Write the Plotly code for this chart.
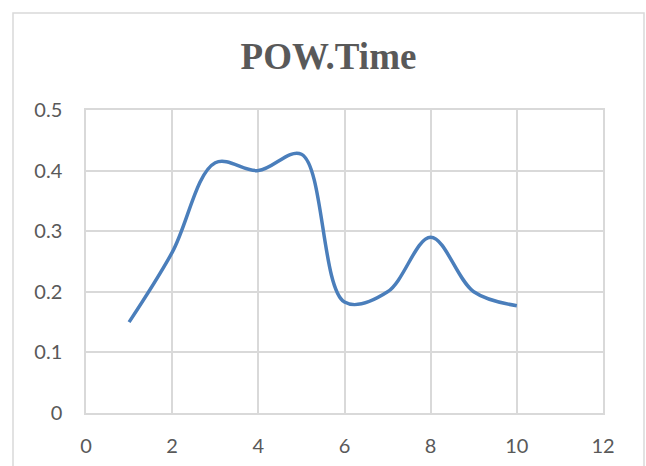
import plotly.graph_objects as go

# POW.Time series
x_vals = [1, 2, 3, 4, 5, 6, 7, 8, 9, 10]
pow_time = [0.15, 0.265, 0.413, 0.40, 0.427, 0.183, 0.20, 0.29, 0.20, 0.177]

x_ticks = [0, 2, 4, 6, 8, 10, 12]
y_ticks = [0, 0.1, 0.2, 0.3, 0.4, 0.5]
y_tick_text = ["0", "0.1", "0.2", "0.3", "0.4", "0.5"]

W, H = 646, 466
ML, MR, MT, MB = 86, 43, 110, 53
pw = W - ML - MR
ph = H - MT - MB


def px_x(p):
    return (p - ML) / pw


def px_y(p):
    return (H - MB - p) / ph


grid = "#d9d9d9"
text_col = "#595959"

fig = go.Figure()
fig.add_trace(go.Scatter(
    x=x_vals, y=pow_time, mode="lines",
    line=dict(color="#4A7EBB", width=3.5, shape="spline", smoothing=1.0),
    showlegend=False, hoverinfo="x+y",
))

axis_common = dict(
    showgrid=True, gridcolor=grid, gridwidth=1.5,
    zeroline=False, showline=True, linecolor=grid, linewidth=1.5, mirror=True,
    tickcolor="rgba(0,0,0,0)", ticks="outside",
    tickfont=dict(family="Lato", size=20, color=text_col),
    automargin=False, fixedrange=True,
)

fig.update_layout(
    width=W, height=H,
    margin=dict(l=ML, r=MR, t=MT, b=MB, pad=0, autoexpand=False),
    paper_bgcolor="white", plot_bgcolor="white",
    title=dict(
        text="<b>POW.Time</b>",
        font=dict(family="Liberation Serif", size=37, color=text_col),
        x=328.5 / W, xanchor="center",
        y=1 - 56 / H, yanchor="middle",
    ),
    xaxis=dict(
        range=[0, 12], tickvals=x_ticks, ticktext=[str(v) for v in x_ticks],
        ticklen=14, **axis_common,
    ),
    yaxis=dict(
        range=[0, 0.5], tickvals=y_ticks, ticktext=y_tick_text,
        ticklen=18, **axis_common,
    ),
    shapes=[
        # chart-area frame
        dict(type="rect", xref="paper", yref="paper",
             x0=px_x(13), x1=px_x(644), y0=px_y(480), y1=px_y(13),
             line=dict(color=grid, width=1.5), fillcolor="rgba(0,0,0,0)",
             layer="below"),
    ],
)

fig.write_html("out.html")
